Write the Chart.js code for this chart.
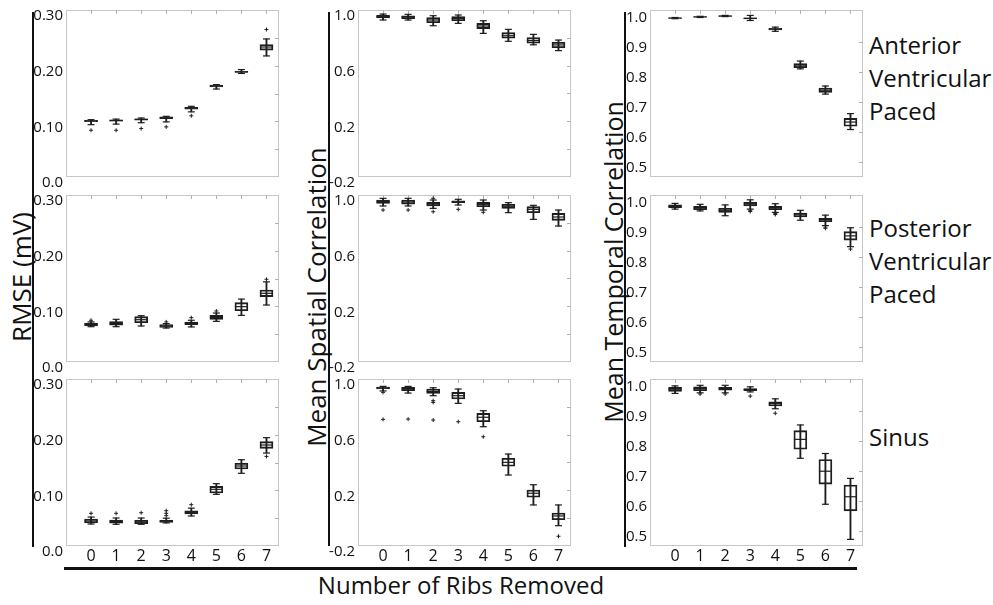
<!DOCTYPE html>
<html lang="en">
<head>
<meta charset="UTF-8">
<title>Reconstruction error vs number of ribs removed</title>
<script src="https://cdn.jsdelivr.net/npm/chart.js"></script>
<style>
  body { margin: 0; background: #fff; font-family: "Open Sans", sans-serif; color: #111; }
  #page { position: relative; width: 993px; height: 605px; overflow: hidden; }
  .panel { position: absolute; }
  .vbar { position: absolute; width: 2px; background: #111; }
  .hbar { position: absolute; height: 3px; background: #111; }
  .ytitle { position: absolute; width: 420px; height: 34px; line-height: 34px; text-align: center;
            font-size: 26px; transform: rotate(-90deg); white-space: nowrap; }
  .rowlabel { position: absolute; left: 869px; font-size: 24px; line-height: 33px; white-space: nowrap; }
  .xtitle { position: absolute; left: 211px; width: 500px; text-align: center; font-size: 24px; line-height: 33px; }
</style>
</head>
<body>
<div id="page">
  <div class="vbar" style="left:32px; top:12px; height:535px;"></div>
  <div class="vbar" style="left:328px; top:12px; height:534px;"></div>
  <div class="vbar" style="left:624px; top:12px; height:535px;"></div>
  <div class="hbar" style="left:64px; top:567px; width:793px;"></div>

  <div class="ytitle" style="left:-189px; top:260px;">RMSE (mV)</div>
  <div class="ytitle" style="left:106px; top:280px;">Mean Spatial Correlation</div>
  <div class="ytitle" style="left:403px; top:245px; font-size:25px;">Mean Temporal Correlation</div>

  <div class="rowlabel" style="top:28px;">Anterior<br>Ventricular<br>Paced</div>
  <div class="rowlabel" style="top:211px;">Posterior<br>Ventricular<br>Paced</div>
  <div class="rowlabel" style="top:420px;">Sinus</div>

  <div class="xtitle" style="top:568px;">Number of Ribs Removed</div>
</div>
<script>
// categories
const ribsRemoved = [0, 1, 2, 3, 4, 5, 6, 7];

// box statistics per category: [lower whisker, q1, median, q3, upper whisker]
const avpRmse = [
  [0.094, 0.0995, 0.101, 0.102, 0.103], [0.095, 0.1005, 0.1015, 0.1025, 0.104],
  [0.0975, 0.102, 0.1035, 0.1045, 0.106], [0.099, 0.105, 0.1065, 0.108, 0.109],
  [0.117, 0.122, 0.1235, 0.125, 0.127], [0.158, 0.162, 0.1635, 0.165, 0.166],
  [0.186, 0.188, 0.189, 0.190, 0.193], [0.2175, 0.228, 0.2335, 0.238, 0.248]
];
const avpRmseOut = [[0, 0.084], [1, 0.084], [2, 0.087], [3, 0.090], [4, 0.110], [7, 0.265]];

const pvpRmse = [
  [0.0634, 0.065, 0.0677, 0.070, 0.072], [0.0634, 0.066, 0.069, 0.0724, 0.0767],
  [0.0647, 0.0706, 0.076, 0.0814, 0.0832], [0.061, 0.0623, 0.0647, 0.067, 0.069],
  [0.063, 0.067, 0.0694, 0.0719, 0.075], [0.073, 0.0767, 0.080, 0.0838, 0.088],
  [0.0838, 0.0922, 0.0994, 0.1066, 0.113], [0.1024, 0.1174, 0.1234, 0.1293, 0.144]
];
const pvpRmseOut = [[0, 0.075], [3, 0.072], [4, 0.0796], [5, 0.0916], [7, 0.1486]];

const sinusRmse = [
  [0.0395, 0.0413, 0.0449, 0.0485, 0.052], [0.039, 0.0408, 0.0437, 0.0467, 0.0503],
  [0.039, 0.040, 0.0431, 0.0461, 0.0503], [0.0415, 0.0425, 0.0443, 0.046, 0.050],
  [0.0539, 0.0575, 0.0605, 0.0634, 0.068], [0.0928, 0.0952, 0.1018, 0.107, 0.112],
  [0.1306, 0.1383, 0.1437, 0.1485, 0.155], [0.167, 0.1755, 0.1814, 0.1874, 0.1946]
];
const sinusRmseOut = [[0, 0.0587], [1, 0.0587], [2, 0.0598], [3, 0.0545], [3, 0.0587], [3, 0.0634],
  [4, 0.0742], [7, 0.161]];

const avpSpatial = [
  [0.928, 0.9425, 0.952, 0.962, 0.971], [0.928, 0.938, 0.950, 0.959, 0.969],
  [0.887, 0.909, 0.928, 0.945, 0.959], [0.904, 0.923, 0.940, 0.952, 0.964],
  [0.832, 0.866, 0.885, 0.904, 0.923], [0.775, 0.797, 0.815, 0.837, 0.861],
  [0.750, 0.761, 0.780, 0.801, 0.825], [0.708, 0.729, 0.749, 0.768, 0.784]
];
const avpSpatialOut = [];

const pvpSpatial = [
  [0.921, 0.940, 0.952, 0.964, 0.976], [0.921, 0.935, 0.950, 0.964, 0.976],
  [0.904, 0.921, 0.935, 0.947, 0.964], [0.928, 0.945, 0.952, 0.959, 0.969],
  [0.892, 0.916, 0.933, 0.947, 0.964], [0.873, 0.904, 0.919, 0.933, 0.945],
  [0.825, 0.873, 0.897, 0.916, 0.926], [0.777, 0.818, 0.842, 0.868, 0.892]
];
const pvpSpatialOut = [[0, 0.892], [1, 0.892], [2, 0.976], [2, 0.880], [3, 0.897], [4, 0.876]];

const sinusSpatial = [
  [0.914, 0.928, 0.935, 0.9425, 0.947], [0.899, 0.916, 0.928, 0.940, 0.947],
  [0.880, 0.897, 0.911, 0.928, 0.937], [0.825, 0.856, 0.880, 0.904, 0.928],
  [0.657, 0.693, 0.725, 0.753, 0.772], [0.310, 0.373, 0.401, 0.430, 0.461],
  [0.095, 0.150, 0.179, 0.202, 0.240], [-0.054, -0.011, 0.016, 0.037, 0.095]
];
const sinusSpatialOut = [[0, 0.904], [0, 0.710], [1, 0.712], [2, 0.844], [2, 0.832], [2, 0.705],
  [3, 0.693], [4, 0.585], [7, -0.130]];

const avpTemporal = [
  [0.977, 0.978, 0.979, 0.980, 0.981], [0.981, 0.982, 0.983, 0.984, 0.985],
  [0.984, 0.985, 0.986, 0.987, 0.988], [0.971, 0.976, 0.978, 0.980, 0.988],
  [0.935, 0.940, 0.942, 0.945, 0.949], [0.810, 0.814, 0.820, 0.828, 0.836],
  [0.726, 0.732, 0.739, 0.746, 0.753], [0.608, 0.619, 0.633, 0.645, 0.661]
];
const avpTemporalOut = [];

const pvpTemporal = [
  [0.959, 0.964, 0.968, 0.973, 0.978], [0.953, 0.957, 0.963, 0.968, 0.975],
  [0.937, 0.948, 0.955, 0.962, 0.973], [0.959, 0.970, 0.977, 0.982, 0.990],
  [0.948, 0.957, 0.963, 0.968, 0.977], [0.922, 0.933, 0.940, 0.946, 0.955],
  [0.904, 0.917, 0.924, 0.928, 0.939], [0.834, 0.856, 0.870, 0.884, 0.897]
];
const pvpTemporalOut = [[3, 0.955], [3, 0.951], [4, 0.944], [4, 0.941], [6, 0.899], [6, 0.895], [7, 0.826]];

const sinusTemporal = [
  [0.958, 0.965, 0.972, 0.978, 0.983], [0.960, 0.967, 0.974, 0.980, 0.985],
  [0.960, 0.969, 0.974, 0.978, 0.985], [0.963, 0.967, 0.971, 0.974, 0.980],
  [0.907, 0.916, 0.924, 0.930, 0.940], [0.742, 0.772, 0.805, 0.834, 0.853],
  [0.589, 0.656, 0.699, 0.738, 0.758], [0.472, 0.567, 0.614, 0.653, 0.675]
];
const sinusTemporalOut = [[1, 0.956], [2, 0.956], [3, 0.949], [4, 0.892]];

// tick labels
const rmseTickVals = [0, 0.1, 0.2, 0.3];
const rmseTickText = ['0.0', '0.10', '0.20', '0.30'];
const rmseMinor = [0.05, 0.10, 0.15, 0.20, 0.25];
const spatialTickVals = [-0.2, 0.2, 0.6, 1.0];
const spatialTickText = ['-0.2', '0.2', '0.6', '1.0'];
const spatialMinor = [0.0, 0.2, 0.4, 0.6, 0.8];
const temporalTickVals = [0.5, 0.6, 0.7, 0.8, 0.9, 1.0];
const temporalTickText = ['0.5', '0.6', '0.7', '0.8', '0.9', '1.0'];
const temporalMinor = [0.5, 0.6, 0.7, 0.8, 0.9];

const columns = [
  { min: 0, max: 0.30, vals: rmseTickVals, text: rmseTickText, minor: rmseMinor },
  { min: -0.2, max: 1.0, vals: spatialTickVals, text: spatialTickText, minor: spatialMinor },
  { min: 0.45, max: 1.006, vals: temporalTickVals, text: temporalTickText, minor: temporalMinor }
];

const rows = [
  [[avpRmse, avpRmseOut], [avpSpatial, avpSpatialOut], [avpTemporal, avpTemporalOut]],
  [[pvpRmse, pvpRmseOut], [pvpSpatial, pvpSpatialOut], [pvpTemporal, pvpTemporalOut]],
  [[sinusRmse, sinusRmseOut], [sinusSpatial, sinusSpatialOut], [sinusTemporal, sinusTemporalOut]]
];

// layout
const plotLefts = [66, 358, 650];
const plotTops = [10, 195, 379];
const plotW = 213, plotH = 167, axisW = 40, pad = 12, xAxisH = 24;
const ink = '#1e1e1e';

Chart.defaults.font.family = '"Open Sans", sans-serif';

// light frame with MATLAB-style inward ticks on top and right
const framePlugin = {
  id: 'frame',
  beforeDatasetsDraw(chart, args, opts) {
    const { ctx, chartArea: a, scales } = chart;
    ctx.save();
    ctx.strokeStyle = '#c6c6c6';
    ctx.lineWidth = 1;
    ctx.strokeRect(Math.round(a.left) + 0.5, Math.round(a.top) + 0.5,
      Math.round(a.right - a.left) - 1, Math.round(a.bottom - a.top) - 1);
    ctx.strokeStyle = '#b0b0b0';
    ctx.beginPath();
    ribsRemoved.forEach(v => {
      const x = Math.round(scales.x.getPixelForValue(v)) + 0.5;
      ctx.moveTo(x, a.top);
      ctx.lineTo(x, a.top + 4);
    });
    opts.minor.forEach(v => {
      const y = Math.round(scales.y.getPixelForValue(v)) + 0.5;
      ctx.moveTo(a.right, y);
      ctx.lineTo(a.right - 4, y);
    });
    ctx.stroke();
    ctx.restore();
  }
};

const page = document.getElementById('page');

rows.forEach((row, r) => {
  row.forEach(([stats, outliers], c) => {
    const col = columns[c];
    const showX = r === rows.length - 1;
    const div = document.createElement('div');
    div.className = 'panel';
    div.style.left = (plotLefts[c] - axisW) + 'px';
    div.style.top = (plotTops[r] - pad) + 'px';
    div.style.width = (axisW + plotW + pad) + 'px';
    div.style.height = (pad + plotH + (showX ? xAxisH : 0) + pad) + 'px';
    const canvas = document.createElement('canvas');
    div.appendChild(canvas);
    page.appendChild(div);

    new Chart(canvas, {
      type: 'bar',
      data: {
        datasets: [
          { // whisker stems
            type: 'bar', grouped: false, barThickness: 1.2,
            data: stats.map((s, i) => ({ x: ribsRemoved[i], y: [s[0], s[4]] })),
            backgroundColor: ink, borderWidth: 0
          },
          { // boxes
            type: 'bar', grouped: false, barThickness: 13,
            data: stats.map((s, i) => ({ x: ribsRemoved[i], y: [s[1], s[3]] })),
            backgroundColor: 'rgba(255,255,255,0)', borderColor: ink, borderWidth: 1.2,
            borderSkipped: false
          },
          { // whisker caps
            type: 'scatter',
            data: stats.flatMap((s, i) => [{ x: ribsRemoved[i], y: s[0] }, { x: ribsRemoved[i], y: s[4] }]),
            pointStyle: 'line', pointRadius: 3.5, pointBorderWidth: 1.2, pointBorderColor: ink
          },
          { // medians
            type: 'scatter',
            data: stats.map((s, i) => ({ x: ribsRemoved[i], y: s[2] })),
            pointStyle: 'line', pointRadius: 6.5, pointBorderWidth: 1.2, pointBorderColor: ink
          },
          { // outliers
            type: 'scatter',
            data: outliers.map(o => ({ x: o[0], y: o[1] })),
            pointStyle: 'cross', pointRadius: 2, pointBorderWidth: 1, pointBorderColor: ink
          }
        ]
      },
      options: {
        responsive: true,
        maintainAspectRatio: false,
        animation: false,
        events: [],
        layout: { padding: { top: pad, right: pad, bottom: pad, left: 0 } },
        plugins: {
          legend: { display: false },
          tooltip: { enabled: false },
          frame: { minor: col.minor }
        },
        scales: {
          x: {
            type: 'linear', min: -1, max: 7.5, offset: false,
            grid: { display: false, drawTicks: false, offset: false },
            border: { display: false },
            afterBuildTicks: s => { s.ticks = ribsRemoved.map(v => ({ value: v })); },
            afterFit: s => { s.height = showX ? xAxisH : 0; },
            ticks: { display: showX, padding: 1, color: '#111', font: { size: 16 }, autoSkip: false, maxRotation: 0 }
          },
          y: {
            type: 'linear', min: col.min, max: col.max,
            grid: { display: false, drawTicks: false },
            border: { display: false },
            afterBuildTicks: s => { s.ticks = col.vals.map(v => ({ value: v })); },
            afterFit: s => { s.width = axisW; },
            ticks: {
              padding: 3, color: '#111', font: { size: 15 }, labelOffset: 6, autoSkip: false,
              callback: (v, i) => col.text[i]
            }
          }
        }
      },
      plugins: [framePlugin]
    });
  });
});
</script>
</body>
</html>
